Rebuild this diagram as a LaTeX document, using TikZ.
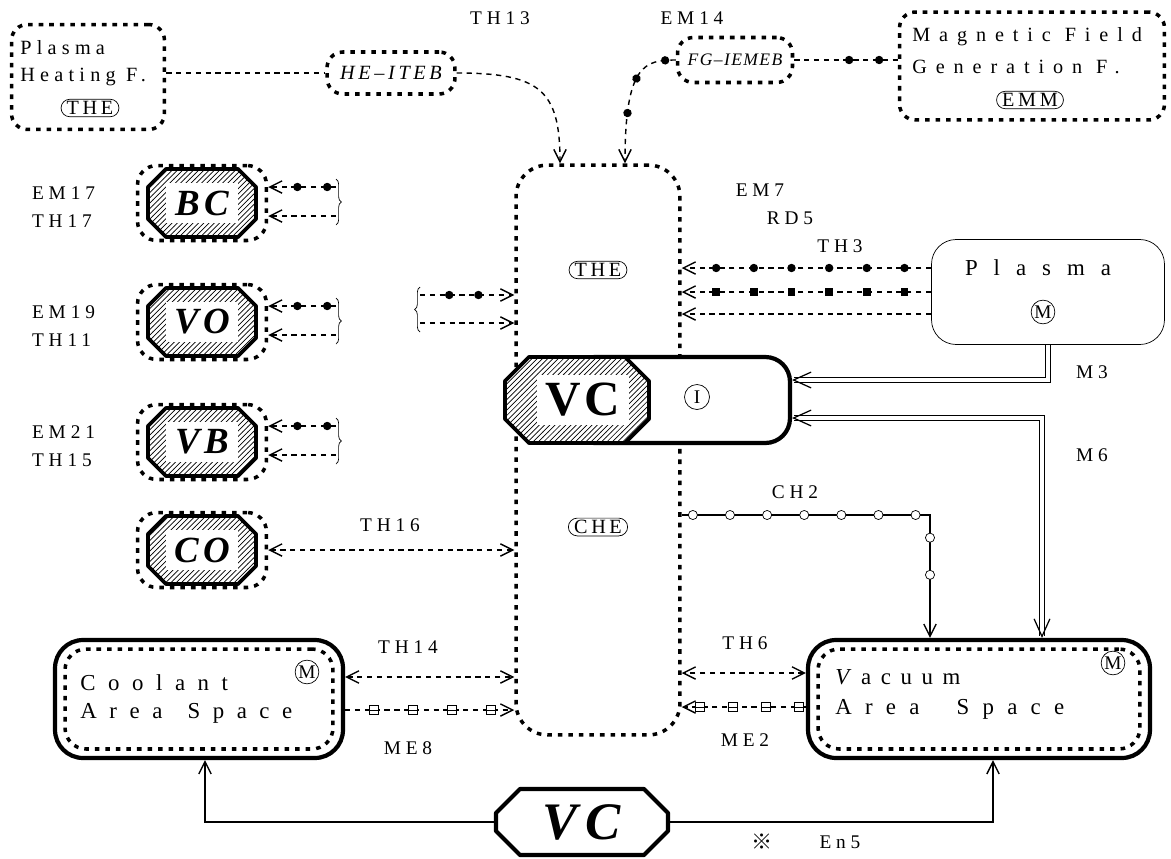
\documentclass[tikz,border=0pt]{standalone}
\usepackage{fontspec}
\setmainfont{Liberation Serif}
\newfontfamily\refmark{Noto Sans CJK JP}
\usetikzlibrary{arrows.meta,shapes.misc,patterns,decorations.markings,decorations.pathreplacing,positioning,calc}

% octagon round a node: centre, half width, half height, cut
\newcommand\octagonat[4]{($(#1)+(-#2+#4,-#3)$) -- ($(#1)+(#2-#4,-#3)$) -- ($(#1)+(#2,-#3+#4)$) -- ($(#1)+(#2,#3-#4)$) -- ($(#1)+(#2-#4,#3)$) -- ($(#1)+(-#2+#4,#3)$) -- ($(#1)+(-#2,#3-#4)$) -- ($(#1)+(-#2,-#3+#4)$) -- cycle}

\tikzset{
  dotbox/.style={draw,line width=2pt,dash pattern=on 2.6pt off 3.4pt,rounded corners=9pt},
  thickbox/.style={draw,line width=2.4pt,rounded corners=16pt},
  tag/.style={inner sep=1pt,font=\fontsize{11}{12}\selectfont\addfontfeature{LetterSpace=25}},
  boxtext/.style={anchor=west,inner sep=0pt,font=\fontsize{11.5}{13}\selectfont\addfontfeature{LetterSpace=#1}},
  spacetext/.style={anchor=west,inner sep=0pt,font=\fontsize{13}{14}\selectfont\addfontfeature{LetterSpace=#1}},
  stad/.style={draw,thin,rounded rectangle,inner xsep=1.5pt,inner ysep=1.2pt,font=\fontsize{11.5}{13}\selectfont\addfontfeature{LetterSpace=18}},
  circ/.style={draw,thin,circle,inner sep=0.5pt,font=\fontsize{11}{12}\selectfont},
  hatchfill/.style={draw,line width=2.2pt,line join=round,preaction={fill=white},preaction={pattern=north east lines}},
  unitbox/.style={dotbox,rounded corners=11pt,minimum width=2.58cm,minimum height=1.5cm},
  unitlabel/.style={fill=white,inner sep=0pt,minimum width=1.44cm,minimum height=0.8cm,font=\fontsize{21}{22}\selectfont\bfseries\itshape\addfontfeature{LetterSpace=12}},
  flow/.style={line width=0.8pt,dash pattern=on 3pt off 2.6pt},
  dbl/.style={double,double distance=2.2pt,line width=0.6pt},
  barb/.tip={Straight Barb[length=7pt,width=7pt,line width=0.8pt]},
  dbarb/.tip={Straight Barb[length=10pt,width=9pt,line width=0.7pt]},
  beads/.style={postaction={decorate,decoration={markings,mark=between positions #1 with {\fill[solid] (0,0) circle (2.4pt);}}}},
  blocks/.style={postaction={decorate,decoration={markings,mark=between positions #1 with {\fill[solid] (-2.2pt,-2.2pt) rectangle (2.2pt,2.2pt);}}}},
  rings/.style={postaction={decorate,decoration={markings,mark=between positions #1 with {\draw[solid,thin,-,fill=white] (0,0) circle (2.6pt);}}}},
  boxes/.style={postaction={decorate,decoration={markings,mark=between positions #1 with {\draw[solid,thin,-,fill=white] (-2.6pt,-2.6pt) rectangle (2.6pt,2.6pt); \draw[solid,thin,-] (-2.6pt,0) -- (2.6pt,0);}}}}
}

\begin{document}
\begin{tikzpicture}[x=0.02cm,y=-0.02cm]
\useasboundingbox (0,0) rectangle (1171,859);

% heating and field generation
\node[tag] (th13) at (500,18) {TH13};
\node[tag] (em14) at (692,18) {EM14};
\node[dotbox,minimum width=3.06cm,minimum height=2.1cm] (phf) at (88,77) {};
\node[boxtext=26] (phf1) at (20,48) {Plasma};
\node[boxtext=26] (phf2) at (20,77) {Heating F.};
\node[stad] (phfthe) at (90,108) {THE};
\node[dotbox,minimum width=2.56cm,minimum height=0.84cm,font=\fontsize{11.5}{13}\selectfont\itshape\addfontfeature{LetterSpace=18}] (heiteb) at (391,73) {HE–ITEB};
\node[dotbox,minimum width=2.3cm,minimum height=0.9cm,font=\fontsize{10}{12}\selectfont\itshape\addfontfeature{LetterSpace=8}] (fgiemeb) at (735,60) {FG–IEMEB};
\node[dotbox,minimum width=5.3cm,minimum height=2.16cm] (emm) at (1032,66) {};
\node[boxtext=44] (emm1) at (912,37) {Magnetic Field};
\node[boxtext=44] (emm2) at (912,67) {Generation F.};
\node[stad] (emmt) at (1030,100) {EMM};

% central vacuum chamber
\node[dotbox,rounded corners=18pt,minimum width=3.28cm,minimum height=11.4cm] (cbox) at (598,450) {};
\node[stad] (cthe) at (598,270) {THE};
\node[stad] (cche) at (598,527) {CHE};
\node[thickbox,rounded corners=14pt,fill=white,minimum width=4.4cm,minimum height=1.72cm] (vci) at (680,400) {};
\coordinate (vcoct) at (577,400);
\draw[hatchfill] \octagonat{vcoct}{72}{43}{24};
\node[fill=white,inner sep=0pt,minimum width=1.86cm,minimum height=1cm,font=\fontsize{28}{30}\selectfont\bfseries\addfontfeature{LetterSpace=8}] (vc) at (583,400) {VC};
\node[circ,minimum size=0.5cm] (vci1) at (697,397) {I};

\draw[flow] (phf.east |- heiteb.west) -- (heiteb.west);
\draw[flow,-barb] (heiteb.east) .. controls (540,73) and (560,90) .. ($(cbox.north)+(-38,0)$);
\draw[flow,-barb,beads={0.08 and 0.7 step 0.27}] (fgiemeb.west) .. controls (645,60) and (625,64) .. ($(cbox.north)+(27,0)$);
\draw[flow,beads={0.53 and 0.85 step 0.29}] (fgiemeb.east) -- (emm.west |- fgiemeb.east);

% plasma
\node[draw,thin,rounded corners=14pt,minimum width=4.66cm,minimum height=2.1cm] (plasma) at (1048,292) {};
\node[font=\fontsize{13}{14}\selectfont\addfontfeature{LetterSpace=70}] (plasmat) at (1038,268) {Plasma};
\node[circ] (plasmam) at (1043,312) {M};
\node[tag] (em7) at (760,190) {EM7};
\node[tag] (rd5) at (790,218) {RD5};
\node[tag] (th3) at (840,246) {TH3};
\draw[flow,-barb,beads={0.107 and 0.87 step 0.151}] ($(plasma.west)+(0,-24)$) coordinate (pl1) -- (pl1 -| cbox.east);
\draw[flow,-barb,blocks={0.107 and 0.87 step 0.151}] (plasma.west) -- (plasma.west -| cbox.east);
\draw[flow,-barb] ($(plasma.west)+(0,22)$) coordinate (pl3) -- (pl3 -| cbox.east);
\draw[dbl,-dbarb] (plasma.south) |- ($(vci.east)+(0,-20)$);
\node[tag] (m3) at (1092,372) {M3};

% control units
\node[unitbox] (bcbox) at (202,203) {};
\draw[hatchfill] \octagonat{bcbox}{54}{34}{18};
\node[unitlabel] (bc) at (bcbox) {BC};
\node[tag,anchor=west] (em17) at (30,193) {EM17};
\node[tag,anchor=west] (th17) at (30,221) {TH17};
\draw[flow,-barb,beads={0.13 and 0.6 step 0.44}] (336,187) coordinate (bcA) -- (bcA -| bcbox.east);
\draw[flow,-barb] (336,216) coordinate (bcB) -- (bcB -| bcbox.east);
\draw[thin,decorate,decoration={brace,amplitude=3pt}] ($(bcA)+(0,-8)$) -- ($(bcB)+(0,9)$);

\node[unitbox] (vobox) at (202,322) {};
\draw[hatchfill] \octagonat{vobox}{54}{34}{18};
\node[unitlabel] (vo) at (vobox) {VO};
\node[tag,anchor=west] (em19) at (30,312) {EM19};
\node[tag,anchor=west] (th11) at (30,340) {TH11};
\draw[flow,-barb,beads={0.13 and 0.6 step 0.44}] (336,306) coordinate (voA) -- (voA -| vobox.east);
\draw[flow,-barb] (336,335) coordinate (voB) -- (voB -| vobox.east);
\draw[thin,decorate,decoration={brace,amplitude=3pt}] ($(voA)+(0,-8)$) -- ($(voB)+(0,9)$);

\node[unitbox] (vbbox) at (202,442) {};
\draw[hatchfill] \octagonat{vbbox}{54}{34}{18};
\node[unitlabel] (vb) at (vbbox) {VB};
\node[tag,anchor=west] (em21) at (30,432) {EM21};
\node[tag,anchor=west] (th15) at (30,460) {TH15};
\draw[flow,-barb,beads={0.13 and 0.6 step 0.44}] (336,426) coordinate (vbA) -- (vbA -| vbbox.east);
\draw[flow,-barb] (336,455) coordinate (vbB) -- (vbB -| vbbox.east);
\draw[thin,decorate,decoration={brace,amplitude=3pt}] ($(vbA)+(0,-8)$) -- ($(vbB)+(0,9)$);

\node[unitbox] (cobox) at (202,550) {};
\draw[hatchfill] \octagonat{cobox}{54}{34}{18};
\node[unitlabel] (co) at (cobox) {CO};
\node[tag] (th16) at (390,525) {TH16};
\draw[flow,barb-barb] (cobox.east) -- (cobox.east -| cbox.west);

% inputs left of the chamber
\draw[flow,-barb,beads={0.31 and 0.65 step 0.31}] (420,295) coordinate (lfA) -- (lfA -| cbox.west);
\draw[flow,-barb] (420,323) coordinate (lfB) -- (lfB -| cbox.west);
\draw[thin,decorate,decoration={brace,amplitude=3pt}] ($(lfB)+(0,9)$) -- ($(lfA)+(0,-8)$);

% coolant and vacuum spaces
\node[thickbox,minimum width=5.76cm,minimum height=2.36cm] (coolant) at (199,699) {};
\node[dotbox,rounded corners=12pt,minimum width=5.36cm,minimum height=2cm] (coolantin) at (coolant) {};
\node[spacetext=55] (coolant1) at (80,683) {Coolant};
\node[spacetext=55] (coolant2) at (80,713) {Area~\hspace{0.3em}Space};
\node[circ] (coolantm) at (307,672) {M};

\node[thickbox,minimum width=6.84cm,minimum height=2.36cm] (vacuum) at (979,699) {};
\node[dotbox,rounded corners=12pt,minimum width=6.44cm,minimum height=2cm] (vacuumin) at (vacuum) {};
\node[spacetext=42] (vacuum1) at (835,677) {\textit{V}acuum};
\node[spacetext=58] (vacuum2) at (835,709) {Area~\hspace{0.8em}Space};
\node[circ] (vacuumm) at (1113,663) {M};

\draw[flow,barb-barb] ($(coolant.east)+(0,-22)$) coordinate (th14a) -- (th14a -| cbox.west);
\draw[flow,-barb,boxes={0.17 and 0.9 step 0.231}] ($(coolant.east)+(0,11)$) coordinate (me8a) -- (me8a -| cbox.west);
\node[tag] (th14) at (408,647) {TH14};
\node[tag] (me8) at (408,748) {ME8};
\draw[flow,barb-barb] ($(vacuum.west)+(0,-26)$) coordinate (th6a) -- (th6a -| cbox.east);
\draw[flow,-barb,boxes={0.06 and 0.9 step 0.265}] ($(vacuum.west)+(0,8)$) coordinate (me2a) -- (me2a -| cbox.east);
\node[tag] (th6) at (745,643) {TH6};
\node[tag] (me2) at (745,740) {ME2};

\draw[line width=0.8pt,-barb,rings={0.03 and 0.85 step 0.1}] ($(cbox.east)+(0,65)$) coordinate (ch2a) -| ($(vacuum.north)+(-49,0)$);
\node[tag] (ch2) at (795,492) {CH2};
\draw[dbl,dbarb-dbarb] ($(vci.east)+(0,18)$) -| ($(vacuum.north)+(63,0)$);
\node[tag] (m6) at (1092,455) {M6};

% environment
\node[inner sep=0pt,minimum width=3.46cm,minimum height=1.3cm,font=\fontsize{30}{32}\selectfont\bfseries\itshape\addfontfeature{LetterSpace=15}] (vcb) at (582,822) {VC};
\draw[line width=2.4pt,line join=round] \octagonat{vcb}{86}{33}{24};
\draw[line width=0.8pt,-barb] (vcb.west) -| ($(coolant.south)+(6,0)$);
\draw[line width=0.8pt,-barb] (vcb.east) -| ($(vacuum.south)+(14,0)$);
\node[font=\refmark\fontsize{12}{14}\selectfont] (enmark) at (762,842) {※};
\node[tag] (en5) at (840,842) {En5};
\end{tikzpicture}
\end{document}
